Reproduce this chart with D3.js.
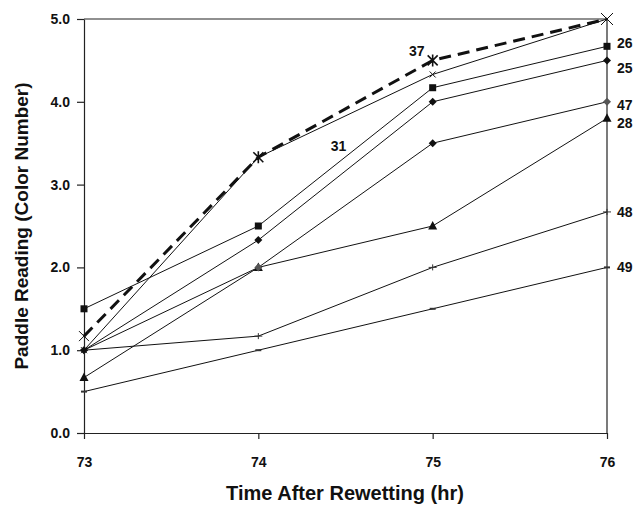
<!DOCTYPE html>
<html><head><meta charset="utf-8">
<script src="https://cdn.jsdelivr.net/npm/d3@7"></script>
<style>
body{margin:0;background:#fff;}
text{font-family:"Liberation Sans",Arial,Helvetica,sans-serif;font-weight:bold;fill:#111;}
</style></head>
<body><svg id="c" width="639" height="505"></svg>
<script>
const times = [73, 74, 75, 76];
const yTicks = [0, 1, 2, 3, 4, 5];
const s37 = [1.17, 3.33, 4.5, 5.0];
const s31 = [1.0, 3.33, 4.33, 5.0];
const s26 = [1.5, 2.5, 4.17, 4.67];
const s25 = [1.0, 2.33, 4.0, 4.5];
const s47 = [1.0, 2.0, 3.5, 4.0];
const s28 = [0.67, 2.0, 2.5, 3.8];
const s48 = [1.0, 1.17, 2.0, 2.67];
const s49 = [0.5, 1.0, 1.5, 2.0];
const endLabels = ["26", "25", "47", "28", "48", "49"];

const series = [
  {name:"49", v:s49, m:"dash", w:1},
  {name:"48", v:s48, m:"plus", w:1},
  {name:"28", v:s28, m:"tri", w:1},
  {name:"47", v:s47, m:"diamondGray", w:1},
  {name:"25", v:s25, m:"diamond", w:1},
  {name:"26", v:s26, m:"square", w:1},
  {name:"31", v:s31, m:"smallx", w:1},
  {name:"37", v:s37, m:"star", w:3, dash:"12,7"}
];

const svg = d3.select("#c");
const x = d3.scaleLinear().domain([73, 76]).range([84, 607]);
const y = d3.scaleLinear().domain([0, 5]).range([433, 19]);

// frame
svg.append("line").attr("x1",84).attr("x2",607).attr("y1",19).attr("y2",19).attr("stroke","#222").attr("stroke-width",1.2);
svg.append("line").attr("x1",607).attr("x2",607).attr("y1",19).attr("y2",433).attr("stroke","#222").attr("stroke-width",1.2);

const yAxis = svg.append("g").attr("transform","translate(84,0)")
  .call(d3.axisLeft(y).tickValues(yTicks).tickFormat(d3.format(".1f")).tickSize(7).tickSizeOuter(0));
yAxis.selectAll("text").attr("font-size",14).attr("dx","-4");
const xAxis = svg.append("g").attr("transform","translate(0,433)")
  .call(d3.axisBottom(x).tickValues(times).tickFormat(d3.format("d")).tickSize(6).tickSizeOuter(0));
xAxis.selectAll("text").attr("font-size",14).attr("dy","1.8em");
svg.selectAll(".domain, .tick line").attr("stroke","#222").attr("stroke-width",1.2);

svg.append("text").attr("x",345).attr("y",500).attr("text-anchor","middle").attr("font-size",20).text("Time After Rewetting (hr)");
svg.append("text").attr("transform","translate(28,226) rotate(-90)").attr("text-anchor","middle").attr("font-size",19).text("Paddle Reading (Color Number)");

const line = d3.line().x((d,i)=>x(times[i])).y(d=>y(d));

function marker(g, type, cx, cy, i) {
  if (type === "square") {
    g.append("rect").attr("x",cx-3.5).attr("y",cy-3.5).attr("width",7).attr("height",7).attr("fill","#111");
  } else if (type === "diamond" || type === "diamondGray") {
    const s = 4;
    g.append("path").attr("d",`M${cx},${cy-s}L${cx+s},${cy}L${cx},${cy+s}L${cx-s},${cy}Z`)
      .attr("fill", type === "diamond" ? "#111" : (i === 2 ? "#111" : "#555"));
  } else if (type === "tri") {
    g.append("path").attr("d",`M${cx},${cy-5}L${cx+4.5},${cy+3.5}L${cx-4.5},${cy+3.5}Z`).attr("fill","#111");
  } else if (type === "plus") {
    g.append("path").attr("d",`M${cx-4},${cy}H${cx+4}M${cx},${cy-3}V${cy+3}`).attr("stroke","#333").attr("stroke-width",1);
  } else if (type === "dash") {
    g.append("path").attr("d",`M${cx-3},${cy}H${cx+3}`).attr("stroke","#333").attr("stroke-width",2);
  } else if (type === "smallx") {
    const s = 3;
    g.append("path").attr("d",`M${cx-s},${cy-s}L${cx+s},${cy+s}M${cx-s},${cy+s}L${cx+s},${cy-s}`).attr("stroke","#111").attr("stroke-width",1);
  } else if (type === "star") {
    const big = (i === 0 || i === 3);
    const s = big ? (i === 3 ? 6 : 5) : 5;
    let d = `M${cx-s},${cy-s}L${cx+s},${cy+s}M${cx-s},${cy+s}L${cx+s},${cy-s}`;
    if (!big) d += `M${cx},${cy-s-1}V${cy+s+1}`;
    g.append("path").attr("d",d).attr("stroke","#111").attr("stroke-width", big ? 1 : 1.6);
  }
}

series.forEach(s => {
  const g = svg.append("g");
  g.append("path").datum(s.v).attr("d", line).attr("fill","none")
    .attr("stroke","#111").attr("stroke-width", s.w)
    .attr("stroke-dasharray", s.dash || null);
  s.v.forEach((v,i) => marker(g, s.m, x(times[i]), y(v), i));
});

// end labels
const endMap = {"26":s26, "25":s25, "47":s47, "28":s28, "48":s48, "49":s49};
const endOffsets = {"26":-3, "25":8, "47":3, "28":5, "48":0, "49":0};
endLabels.forEach(n => {
  const v = endMap[n][3];
  svg.append("text").attr("x", 617).attr("y", y(v) + endOffsets[n] + 5).attr("font-size",14).text(n);
});
// inline labels
svg.append("text").attr("x", x(75) - 16).attr("y", y(s37[2]) - 4).attr("text-anchor","middle").attr("font-size",14).text("37");
svg.append("text").attr("x", x(74.46)).attr("y", y(3.4)).attr("text-anchor","middle").attr("font-size",14).text("31");
</script></body></html>
